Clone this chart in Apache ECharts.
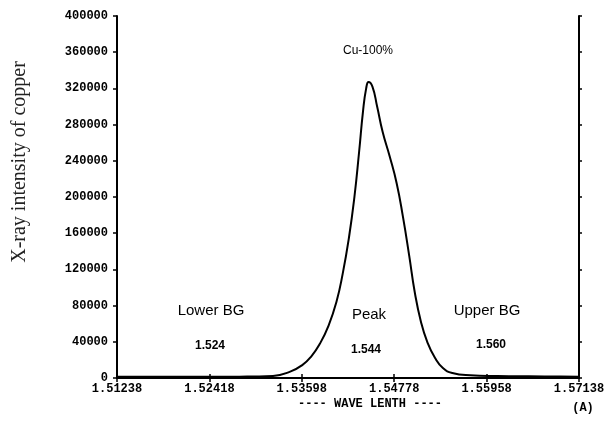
<!DOCTYPE html>
<html><head><meta charset="utf-8">
<script src="https://cdn.jsdelivr.net/npm/echarts@6/dist/echarts.min.js"></script>
<style>html,body{margin:0;padding:0;background:#fff}#c{width:610px;height:429px}</style>
</head><body><div id="c"></div>
<script>
const wavelength = [1.51238,1.5160,1.5200,1.5240,1.5280,1.5300,1.5323,1.5345,1.5360,1.5372,1.5383,1.5394,1.5404,1.5412,1.5420,1.5427,1.5433,1.5438,1.5442,1.5445,1.5450,1.5456,1.5463,1.5472,1.5481,1.5489,1.5497,1.5504,1.5512,1.5520,1.5530,1.5540,1.5552,1.5575,1.5610,1.5650,1.5690,1.57138];
const intensity  = [1500,1500,1400,1300,1500,1600,2200,7000,14000,24000,38000,58000,84000,115000,155000,200000,250000,295000,320000,327000,322000,300000,272000,245000,215000,178000,135000,95000,62000,40000,22000,11000,5500,3000,2200,1800,1600,1500];
const xTicks = [1.51238,1.52418,1.53598,1.54778,1.55958,1.57138];
const yMin = 0, yMax = 400000, yStep = 40000;
const annotations = [
  {name:'Lower BG', value:'1.524'},
  {name:'Peak', value:'1.544'},
  {name:'Upper BG', value:'1.560'}
];
const peakLabel = 'Cu-100%';
const yTitle = 'X-ray intensity of copper';
const xTitle = '---- WAVE LENTH ----';
const unitLabel = '(A)';

const chart = echarts.init(document.getElementById('c'), null, {renderer:'canvas'});
const tickFont = {fontFamily:'Liberation Mono', fontWeight:'bold', fontSize:12, color:'#000'};
const axisLine = {show:true, lineStyle:{color:'#000', width:2}};
const data = wavelength.map((w,i)=>[w,intensity[i]]);
const annX1 = [211, 369, 487];
const annX2 = [210, 366, 491];
const annY1 = [311, 315, 311];
const annY2 = [346, 350, 345];
function txt(s, x, y, font, extra){
  return Object.assign({type:'text', position:[x,y], style:{text:s, x:0, y:0, align:'center', verticalAlign:'middle', font:font, fill:'#000'}}, extra||{});
}
const graphics = [];
annotations.forEach((a,i)=>{
  graphics.push(txt(a.name, annX1[i], annY1[i], '15px "Liberation Sans"'));
  graphics.push(txt(a.value, annX2[i], annY2[i], 'bold 12px "Liberation Sans"'));
});
graphics.push(txt(peakLabel, 368, 51, '12px "Liberation Sans"'));
graphics.push(txt(xTitle, 370, 404, 'bold 12px "Liberation Mono"'));
graphics.push(txt(unitLabel, 583, 408, 'bold 12px "Liberation Mono"'));
const yt = txt(yTitle, 20, 162, '20px "Liberation Serif"', {rotation:Math.PI/2});
yt.style.fill = '#222';
graphics.push(yt);

chart.setOption({
  animation:false,
  backgroundColor:'#fff',
  grid:{left:117, right:31, top:16, bottom:51, containLabel:false},
  xAxis:[{
    type:'value', min:xTicks[0], max:xTicks[xTicks.length-1], position:'bottom',
    axisLine:axisLine, splitLine:{show:false},
    axisTick:{show:true, length:4, lineStyle:{color:'#000',width:1.5}, customValues:xTicks},
    axisLabel:Object.assign({margin:5, customValues:xTicks, formatter:v=>v.toFixed(5)}, tickFont)
  },{
    type:'value', min:xTicks[0], max:xTicks[xTicks.length-1], position:'bottom',
    axisLine:{show:false}, splitLine:{show:false},
    axisTick:{show:true, inside:true, length:4, lineStyle:{color:'#000',width:1.5}, customValues:xTicks},
    axisLabel:{show:false}
  }],
  yAxis:[{
    type:'value', min:yMin, max:yMax, interval:yStep, position:'left',
    axisLine:axisLine, splitLine:{show:false},
    axisTick:{show:true, length:4, lineStyle:{color:'#000',width:1.5}},
    axisLabel:Object.assign({margin:9, formatter:v=>String(v)}, tickFont)
  },{
    type:'value', min:yMin, max:yMax, interval:yStep, position:'right',
    axisLine:axisLine, splitLine:{show:false},
    axisTick:{show:true, length:3, lineStyle:{color:'#000',width:1.5}},
    axisLabel:{show:false}
  }],
  series:[{
    type:'line', data:data, xAxisIndex:0, yAxisIndex:0, smooth:0.5, showSymbol:false, symbol:'none',
    lineStyle:{color:'#000', width:2}
  }],
  graphic:graphics
});
</script></body></html>
